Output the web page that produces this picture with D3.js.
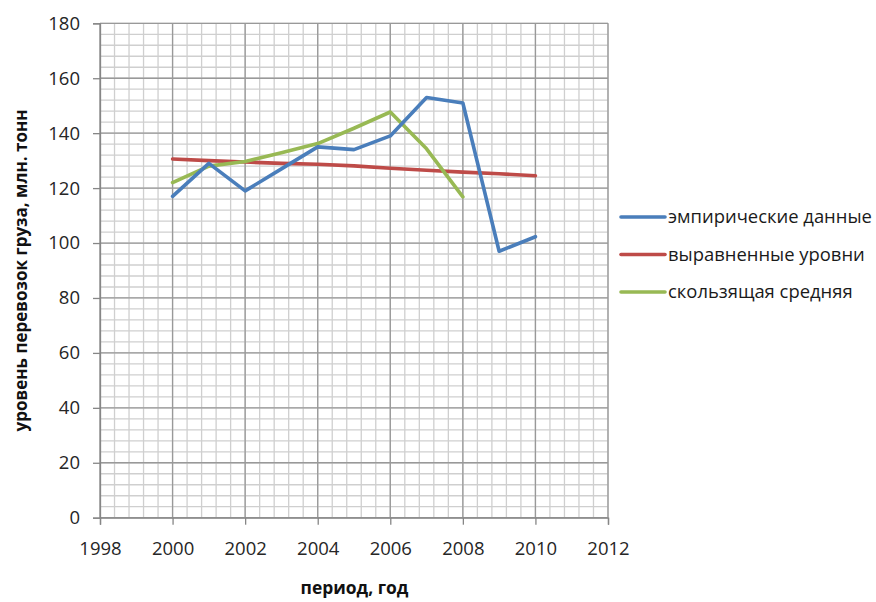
<!DOCTYPE html>
<html>
<head>
<meta charset="utf-8">
<script src="https://cdn.jsdelivr.net/npm/d3@7"></script>
<style>
  body { margin: 0; background: #fff; }
  text { font-family: "Open Sans", sans-serif; }
</style>
</head>
<body>
<svg id="chart" width="876" height="602"></svg>
<script>
// Freight volume series, 2000–2010
const years = [2000, 2001, 2002, 2003, 2004, 2005, 2006, 2007, 2008, 2009, 2010];
const empirical = [117, 129, 119, 127, 135, 134, 139, 153, 151, 97, 102.3];
const trend = [130.6, 130.0, 129.5, 129.0, 128.7, 128.1, 127.2, 126.5, 125.8, 125.2, 124.5];
const movingYears = [2000, 2001, 2002, 2003, 2004, 2005, 2006, 2007, 2008];
const moving = [122, 128, 129.7, 132.9, 136.2, 141.8, 147.7, 134.3, 116.8];

const xTicks = [1998, 2000, 2002, 2004, 2006, 2008, 2010, 2012];
const yTicks = [0, 20, 40, 60, 80, 100, 120, 140, 160, 180];

const seriesNames = ["эмпирические данные", "выравненные уровни", "скользящая средняя"];
const seriesColors = ["#4a7ebb", "#be4b48", "#98b954"];

const svg = d3.select("#chart");
const plotLeft = 100, plotRight = 608, plotTop = 23.3, plotBottom = 517.7;

const x = d3.scaleLinear().domain([1998, 2012]).range([plotLeft, plotRight]);
const y = d3.scaleLinear().domain([0, 180]).range([plotBottom, plotTop]);

// Scale a text element's font size so it spans the given width
function fitWidth(sel, width) {
  const node = sel.node();
  const fs = parseFloat(sel.style("font-size"));
  const w = node.getComputedTextLength();
  sel.style("font-size", (fs * width / w).toFixed(2) + "px");
  return sel;
}

// Minor grid: every 0.4 year and every 4 units
const minorX = d3.range(1998, 2012.001, 0.4);
const minorY = d3.range(0, 180.001, 4);
const grid = svg.append("g");
grid.selectAll("line.mx").data(minorX).join("line")
  .attr("x1", d => x(d)).attr("x2", d => x(d))
  .attr("y1", plotTop).attr("y2", plotBottom)
  .attr("stroke", "#cfcfcf").attr("stroke-width", 1.3);
grid.selectAll("line.my").data(minorY).join("line")
  .attr("y1", d => y(d)).attr("y2", d => y(d))
  .attr("x1", plotLeft).attr("x2", plotRight)
  .attr("stroke", "#cfcfcf").attr("stroke-width", 1.3);
// Major grid
grid.selectAll("line.Mx").data(xTicks).join("line")
  .attr("x1", d => x(d)).attr("x2", d => x(d))
  .attr("y1", plotTop).attr("y2", plotBottom)
  .attr("stroke", "#999").attr("stroke-width", 1.3);
grid.selectAll("line.My").data(yTicks).join("line")
  .attr("y1", d => y(d)).attr("y2", d => y(d))
  .attr("x1", plotLeft).attr("x2", plotRight)
  .attr("stroke", "#999").attr("stroke-width", 1.3);

// Axes
const xAxis = d3.axisBottom(x).tickValues(xTicks).tickFormat(d3.format("d")).tickSize(7).tickPadding(17);
const yAxis = d3.axisLeft(y).tickValues(yTicks).tickSize(7).tickPadding(13);

const gx = svg.append("g").attr("transform", `translate(0,${plotBottom})`).call(xAxis);
const gy = svg.append("g").attr("transform", `translate(${plotLeft},0)`).call(yAxis);
[gx, gy].forEach(g => {
  g.select(".domain").attr("stroke", "#868686").attr("stroke-width", 1.3);
  g.selectAll(".tick line").attr("stroke", "#868686").attr("stroke-width", 1.3);
  g.selectAll(".tick text").attr("fill", "#262626").style("font-size", "18.5px")
    .style("font-family", "'Open Sans', sans-serif");
});

// Axis titles
const xTitle = svg.append("text")
  .attr("x", 354.5).attr("y", 594)
  .attr("text-anchor", "middle")
  .style("font-size", "15px").style("font-weight", "bold").attr("fill", "#111")
  .text("период, год");
fitWidth(xTitle, 108);
const yTitle = svg.append("text")
  .attr("transform", `translate(27,${y(90)}) rotate(-90)`)
  .attr("text-anchor", "middle")
  .style("font-size", "15px").style("font-weight", "bold").attr("fill", "#111")
  .text("уровень перевозок груза, млн. тонн");
fitWidth(yTitle, 322);

// Series lines
const line = d3.line().x(d => x(d[0])).y(d => y(d[1]));
const data = [
  d3.zip(years, trend),
  d3.zip(movingYears, moving),
  d3.zip(years, empirical)
];
const colorsForDraw = [seriesColors[1], seriesColors[2], seriesColors[0]];
svg.append("g").selectAll("path").data(data).join("path")
  .attr("d", line)
  .attr("fill", "none")
  .attr("stroke", (d, i) => colorsForDraw[i])
  .attr("stroke-width", 3.6)
  .attr("stroke-linejoin", "round")
  .attr("stroke-linecap", "round");

// Legend
const legend = svg.append("g");
const legendY = [217, 254.5, 292];
let legendSize = null;
seriesNames.forEach((name, i) => {
  legend.append("line")
    .attr("x1", 621).attr("x2", 665)
    .attr("y1", legendY[i]).attr("y2", legendY[i])
    .attr("stroke", seriesColors[i]).attr("stroke-width", 3.6)
    .attr("stroke-linecap", "round");
  const t = legend.append("text")
    .attr("x", 668).attr("y", legendY[i]).attr("dy", "0.35em")
    .style("font-size", legendSize || "15px").attr("fill", "#1a1a1a")
    .text(name);
  if (i === 0) { fitWidth(t, 204); legendSize = t.style("font-size"); }
});
</script>
</body>
</html>
